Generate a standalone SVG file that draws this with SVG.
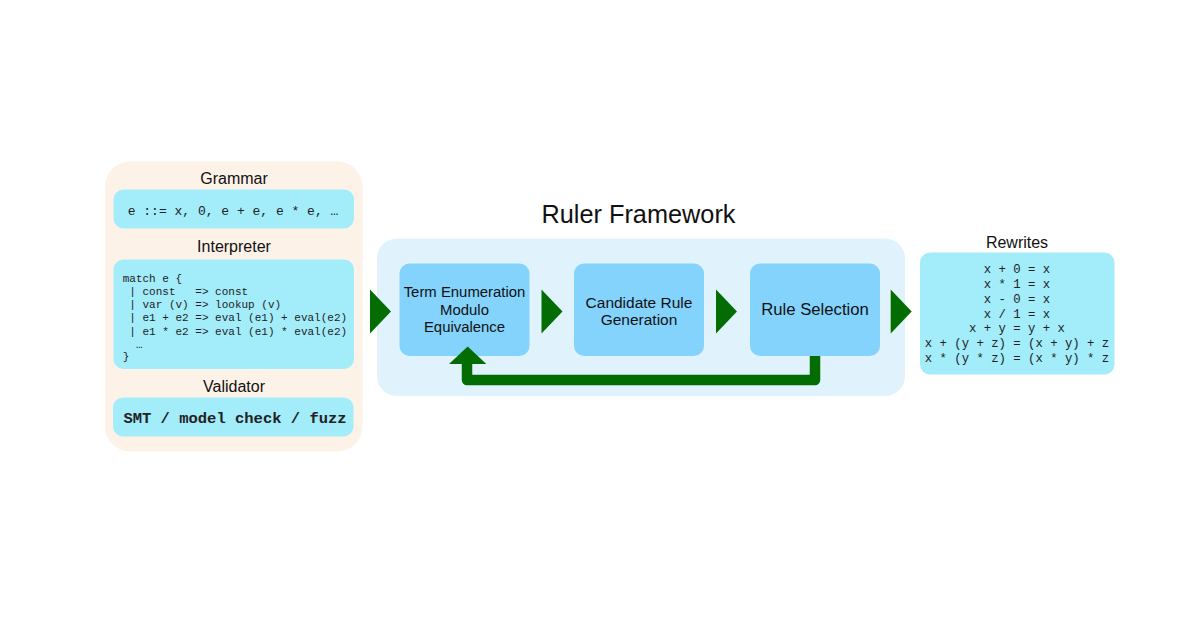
<svg xmlns="http://www.w3.org/2000/svg" width="1200" height="630" viewBox="0 0 1200 630">
  <style>
    .title { font-family: "Liberation Sans", Arial, sans-serif; fill: #111; text-anchor: middle; dominant-baseline: central; }
    .mono { font-family: "Liberation Mono", "Courier New", monospace; fill: #222; }
    .cyan { fill: #a3ecfa; }
    .node { fill: #84d3fd; }
    .arrow { fill: #036d03; }
  </style>
  <rect width="1200" height="630" fill="#ffffff"/>

  <g id="inputs">
    <rect x="105" y="161.5" width="257.5" height="290" rx="25" fill="#fdf2e8"/>
    <g id="grammar">
      <text class="title" x="234" y="178" font-size="16">Grammar</text>
      <rect class="cyan" x="113.5" y="189.5" width="240.5" height="39" rx="10"/>
      <text class="mono" x="233" y="211" font-size="13" text-anchor="middle" dominant-baseline="central">e ::= x, 0, e + e, e * e, …</text>
    </g>
    <g id="interpreter">
      <text class="title" x="234" y="246" font-size="16">Interpreter</text>
      <rect class="cyan" x="113.5" y="259.5" width="240.5" height="109.5" rx="10"/>
      <text class="mono" font-size="11" xml:space="preserve" dominant-baseline="central"><tspan x="122.7" y="279">match e {</tspan><tspan x="122.7" y="292"> | const   =&gt; const</tspan><tspan x="122.7" y="305"> | var (v) =&gt; lookup (v)</tspan><tspan x="122.7" y="318"> | e1 + e2 =&gt; eval (e1) + eval(e2)</tspan><tspan x="122.7" y="331.5"> | e1 * e2 =&gt; eval (e1) * eval(e2)</tspan><tspan x="122.7" y="344.5">  …</tspan><tspan x="122.7" y="357">}</tspan></text>
    </g>
    <g id="validator">
      <text class="title" x="234" y="386" font-size="16">Validator</text>
      <rect class="cyan" x="113" y="397.5" width="240.5" height="39" rx="10"/>
      <text class="mono" x="235" y="419" font-size="15.5" font-weight="bold" text-anchor="middle" dominant-baseline="central" fill="#111">SMT / model check / fuzz</text>
    </g>
  </g>

  <g id="framework">
    <text class="title" x="638.5" y="214" font-size="25.3">Ruler Framework</text>
    <rect x="377" y="238.5" width="528" height="157.5" rx="20" fill="#e0f3fd"/>
    <g id="term-enumeration">
      <rect class="node" x="399.5" y="263.5" width="130" height="92.5" rx="10"/>
      <text class="title" font-size="14.9"><tspan x="464.5" y="292.3">Term Enumeration</tspan><tspan x="464.5" y="310">Modulo</tspan><tspan x="464.5" y="327.3">Equivalence</tspan></text>
    </g>
    <g id="candidate-rule-generation">
      <rect class="node" x="574" y="263.5" width="130" height="92.5" rx="10"/>
      <text class="title" font-size="15.5"><tspan x="639" y="301.5">Candidate Rule</tspan><tspan x="639" y="319.3">Generation</tspan></text>
    </g>
    <g id="rule-selection">
      <rect class="node" x="750" y="263.5" width="130" height="92.5" rx="10"/>
      <text class="title" x="815" y="309.5" font-size="16.7">Rule Selection</text>
    </g>
  </g>

  <g id="rewrites">
    <text class="title" x="1017" y="242.5" font-size="16">Rewrites</text>
    <rect class="cyan" x="920" y="252.5" width="194.5" height="122" rx="10"/>
    <text class="mono" font-size="12.3" text-anchor="middle" dominant-baseline="central" fill="#111"><tspan x="1017" y="270">x + 0 = x</tspan><tspan x="1017" y="284.5">x * 1 = x</tspan><tspan x="1017" y="299.5">x - 0 = x</tspan><tspan x="1017" y="314.5">x / 1 = x</tspan><tspan x="1017" y="329">x + y = y + x</tspan><tspan x="1017" y="344">x + (y + z) = (x + y) + z</tspan><tspan x="1017" y="359">x * (y * z) = (x * y) * z</tspan></text>
  </g>

  <g id="connectors">
    <polygon class="arrow" points="370,289.5 391,311.5 370,333.5"/>
    <polygon class="arrow" points="541.5,289.5 562.5,311.5 541.5,333.5"/>
    <polygon class="arrow" points="716,289.5 737,311.5 716,333.5"/>
    <polygon class="arrow" points="890.7,289.5 911.7,311.5 890.7,333.5"/>
    <path d="M815,356 V380 H467 V362" fill="none" stroke="#036d03" stroke-width="10.5" stroke-linejoin="round"/>
    <polygon class="arrow" points="449,364 467.7,346.5 486.3,364"/>
  </g>
</svg>
